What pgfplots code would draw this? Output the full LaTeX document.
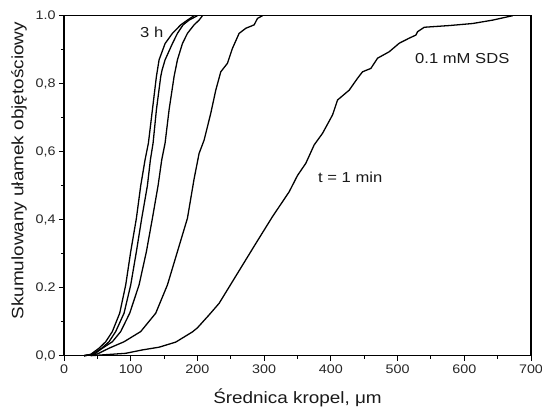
\documentclass[border=0pt]{standalone}
\usepackage{fontspec}
\setmainfont[FakeStretch=1.15]{Liberation Sans}
\usepackage{pgfplots}
\pgfplotsset{compat=1.18}
\begin{document}
\begin{tikzpicture}
\useasboundingbox (-64bp,-51.3bp) rectangle (478bp,355.7bp);
\begin{axis}[
  at={(0,0)}, anchor=south west,
  scale only axis, width=467bp, height=340bp,
  xmin=0, xmax=700, ymin=0, ymax=1,
  xtick={0,100,...,700}, ytick={0,0.2,0.4,0.6,0.8,1.0},
  yticklabels={{0,0}, {0.2}, {0,4}, {0,6}, {0,8}, {1.0}},
  minor x tick num=1, minor y tick num=1,
  tick pos=left, tick align=outside,
  major tick length=5bp, minor tick length=3bp,
  every tick/.style={black, line width=0.9pt},
  axis line style={line width=1.1pt},
  /pgf/number format/assume math mode=true,
  tick label style={font=\fontsize{12.5}{14}\selectfont, color=black!85},
  xticklabel style={yshift=-1bp},
  label style={font=\fontsize{16.5}{18}\selectfont, color=black!90},
  xlabel={Średnica kropel, μm},
  ylabel={Skumulowany ułamek objętościowy},
  xlabel style={at={(axis description cs:0.5,0)}, anchor=base, yshift=-48bp},
  ylabel style={at={(axis description cs:-0.0964,0.544)}, anchor=center},
  clip=false,
]
% 3 h
\addplot[black, line width=1.3pt] coordinates {
(30,0)(40,0.004)(52.5,0.022)(62.5,0.041)(72.5,0.071)(83.5,0.125)(92.5,0.208)(100,0.306)(108.5,0.404)(115,0.50)(121.5,0.576)(126.5,0.625)(132.5,0.723)(138.5,0.821)(142.5,0.87)(151.5,0.918)(162.5,0.948)(175,0.973)(185,0.987)(195,1.0)};
\addplot[black, line width=1.3pt] coordinates {
(30,0)(42,0.004)(56.5,0.022)(67.5,0.041)(77.5,0.071)(90,0.125)(100,0.208)(108.5,0.306)(116.5,0.404)(125,0.50)(129.5,0.576)(133.5,0.625)(138.5,0.723)(145,0.821)(147,0.84)(151.5,0.87)(162.5,0.918)(170,0.948)(178.5,0.973)(187.5,0.987)(200,1.0)};
\addplot[black, line width=1.3pt] coordinates {
(30,0)(45,0.004)(57.5,0.022)(72.5,0.041)(85,0.071)(98.5,0.125)(112.5,0.208)(123.5,0.306)(132.5,0.404)(141,0.50)(146.5,0.576)(151.5,0.625)(157.5,0.723)(165,0.821)(170,0.87)(177.5,0.918)(185,0.948)(195,0.973)(202.5,0.987)(207.5,1.0)};
\addplot[black, line width=1.3pt] coordinates {
(30,0)(50,0.005)(67.5,0.022)(90,0.041)(115,0.071)(137.5,0.125)(155,0.208)(170,0.306)(185,0.404)(195,0.52)(202.5,0.595)(210,0.634)(220,0.713)(227.5,0.781)(235,0.835)(245,0.86)(252.5,0.904)(262.5,0.948)(272.5,0.963)(285,0.973)(290,0.992)(297.5,1.0)};
% t = 1 min
\addplot[black, line width=1.3pt] coordinates {
(40,0)(92.5,0.007)(117.5,0.017)(142.5,0.025)(167.5,0.04)(192.5,0.07)(200,0.082)(217.5,0.12)(232.5,0.154)(260,0.242)(287.5,0.33)(312.5,0.409)(337.5,0.482)(350,0.53)(362.5,0.566)(375,0.62)(387.5,0.654)(402.5,0.708)(410,0.752)(427.5,0.781)(440,0.816)(447.5,0.835)(460,0.845)(470,0.875)(487.5,0.894)(502.5,0.919)(517.5,0.934)(527.5,0.943)(530,0.953)(540,0.966)(577.5,0.971)(612.5,0.977)(642.5,0.987)(672.5,1.0)};
\node[font=\fontsize{14.5}{17}\selectfont, color=black!90] at (axis cs:131.5,0.95) {3 h};
\node[font=\fontsize{14.5}{17}\selectfont, color=black!90] at (axis cs:597,0.873) {0.1 mM SDS};
\node[font=\fontsize{14.5}{17}\selectfont, color=black!90] at (axis cs:429,0.526) {t = 1 min};
\end{axis}
\end{tikzpicture}
\end{document}
